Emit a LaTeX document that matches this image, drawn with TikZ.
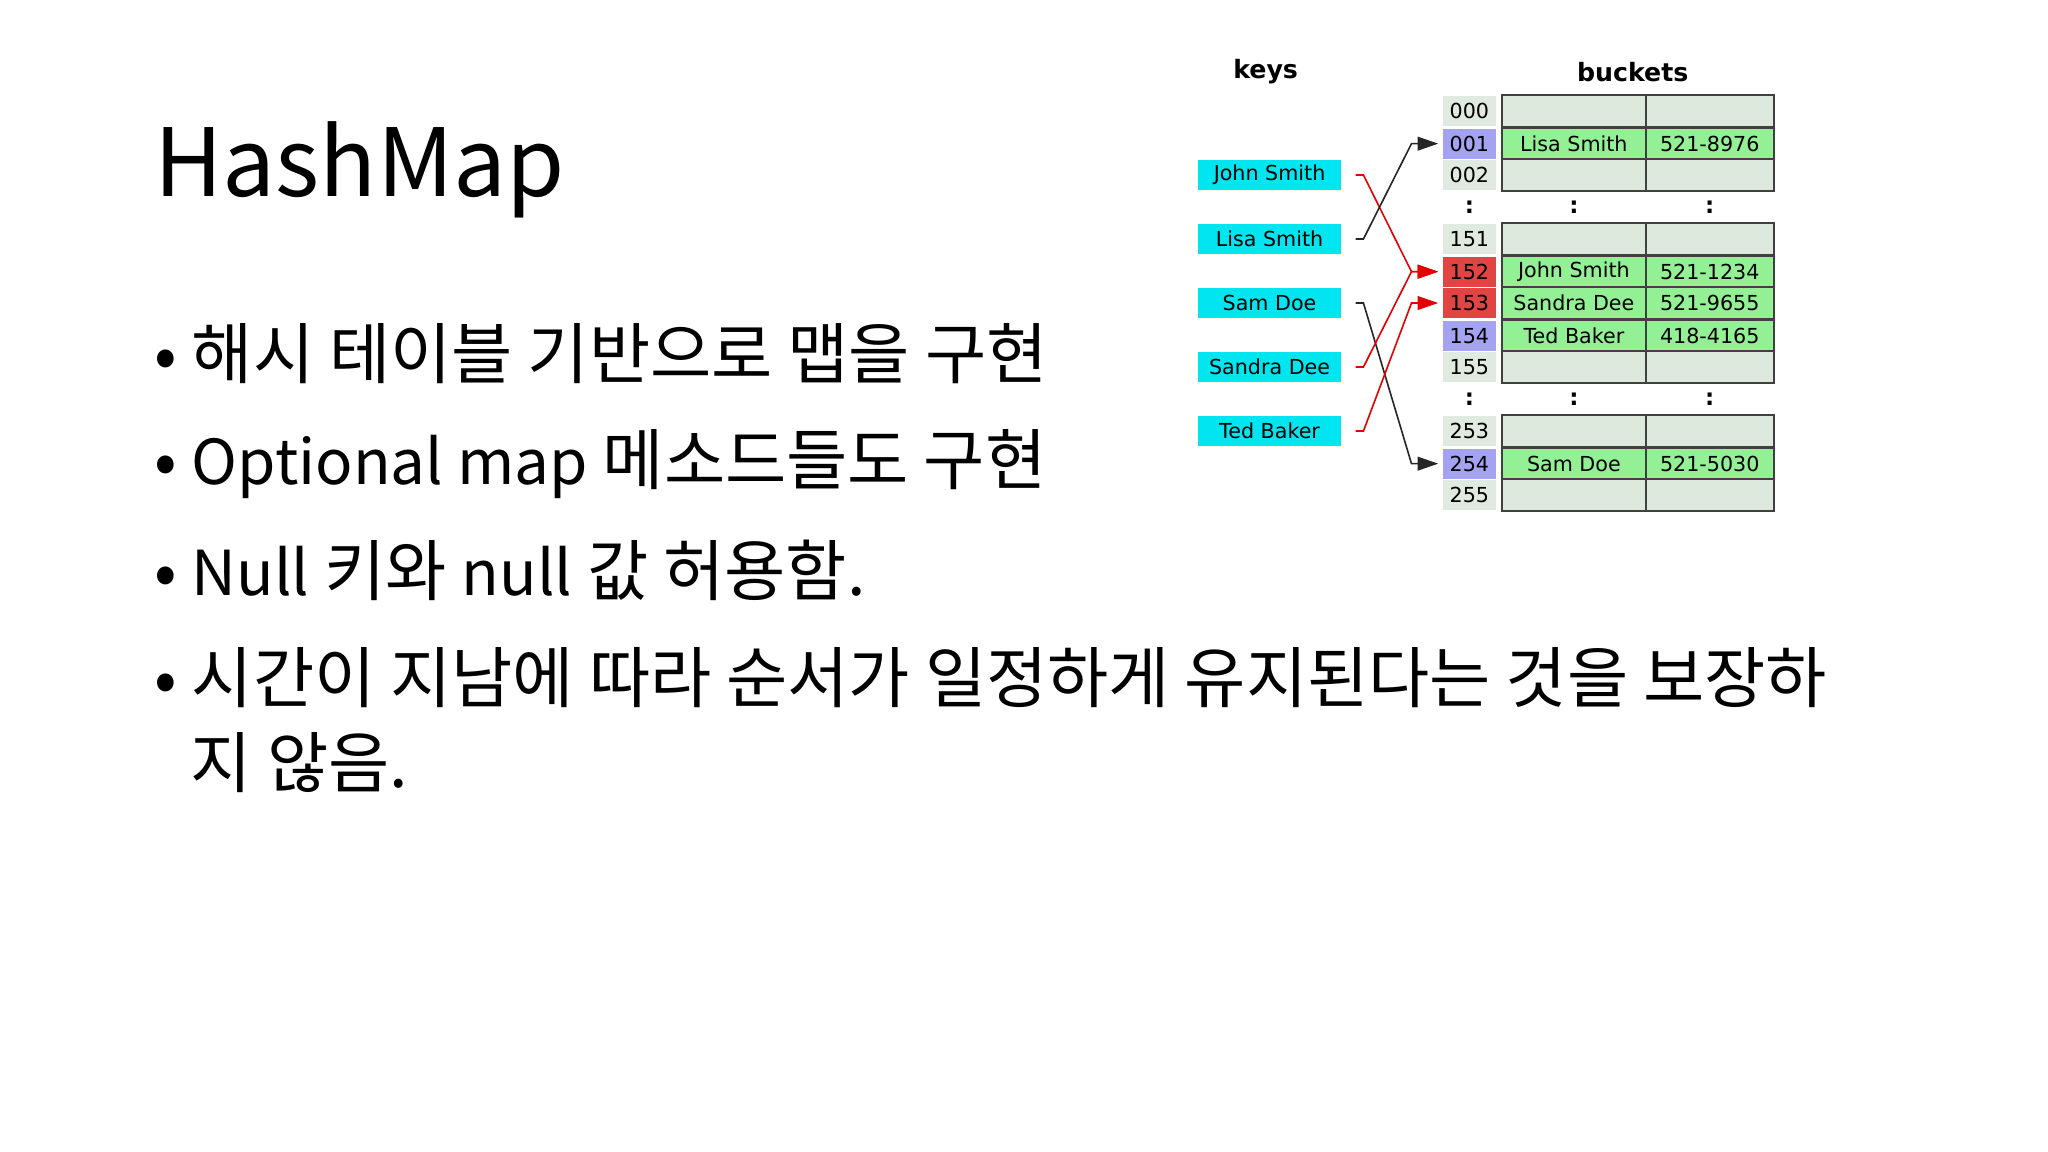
\documentclass[tikz,border=0pt]{standalone}
\usepackage{fontspec}
\setmainfont{Noto Sans CJK KR}
\newfontfamily\dv{DejaVu Sans}
\usetikzlibrary{calc,arrows.meta}
\definecolor{cyanbox}{HTML}{00E5F0}
\definecolor{emptyc}{HTML}{DCE9DC}
\definecolor{fullc}{HTML}{94F094}
\definecolor{purp}{HTML}{A3A3F2}
\definecolor{redc}{HTML}{E24444}
\definecolor{idxc}{HTML}{E0EAE0}
\begin{document}
\begin{tikzpicture}[x=0.02cm,y=-0.02cm,
  key/.style={fill=cyanbox,minimum width=2.2cm,minimum height=0.46cm,inner sep=0,font=\dv\fontsize{9}{10}\selectfont},
  idx/.style={fill=idxc,minimum width=0.8cm,minimum height=0.46cm,inner sep=0,font=\dv\fontsize{9}{10}\selectfont},
  cell/.style={draw=black!75,line width=1pt,minimum width=2.2cm,minimum height=0.49cm,inner sep=0,font=\dv\fontsize{9}{10}\selectfont},
  cellw/.style={cell,minimum width=1.96cm},
  hdr/.style={font=\dv\bfseries\fontsize{11}{12}\selectfont},
  bul/.style={anchor=west,font=\fontsize{29}{36}\selectfont},
  lat/.style={font=\fontsize{27}{36}\selectfont},
  conn/.style={line width=0.7pt,-{Triangle[length=9pt,width=6pt]}},
  dots/.style={font=\dv\bfseries\fontsize{10}{10}\selectfont}]
\useasboundingbox (0,0) rectangle (1568,882);
\fill[white] (0,0) rectangle (1568,882);
% title and bullets
\node[anchor=west,font=\fontsize{41}{48}\selectfont] (title) at (112,130) {HashMap};
\node[bul] (b1) at (112,271) {• 해시 테이블 기반으로 맵을 구현};
\node[bul] (b2) at (112,355) {• {\fontsize{27}{36}\selectfont Optional map} 메소드들도 구현};
\node[bul] (b3) at (112,437) {• {\fontsize{27}{36}\selectfont Null} 키와 {\fontsize{27}{36}\selectfont null} 값 허용함.};
\node[bul] (b4) at (112,519) {• 시간이 지남에 따라 순서가 일정하게 유지된다는 것을 보장하};
\node[bul] (b5) at (140,584) {지 않음.};
% headers
\node[hdr] (hk) at (969,55) {keys};
\node[hdr] (hb) at (1250,55) {buckets};
% keys
\node[key] (js) at (972,134) {John Smith};
\node[key] (ls) at (972,183) {Lisa Smith};
\node[key] (sd) at (972,232) {Sam Doe};
\node[key] (sa) at (972,281) {Sandra Dee};
\node[key] (tb) at (972,330) {Ted Baker};
% index and buckets
\foreach \lab/\y/\ic/\bc/\na/\ph in {
  000/85/idxc/emptyc//,
  001/110/purp/fullc/Lisa Smith/521-8976,
  002/134/idxc/emptyc//,
  151/183/idxc/emptyc//,
  152/208/redc/fullc/John Smith/521-1234,
  153/232/redc/fullc/Sandra Dee/521-9655,
  154/257/purp/fullc/Ted Baker/418-4165,
  155/281/idxc/emptyc//,
  253/330/idxc/emptyc//,
  254/355/purp/fullc/Sam Doe/521-5030,
  255/379/idxc/emptyc//}{
  \node[idx,fill=\ic] (i\lab) at (1125,\y) {\lab};
  \node[cell,fill=\bc] (n\lab) at (1205,\y) {\na};
  \node[cellw,fill=\bc] (p\lab) at (1309,\y) {\ph};
}
\foreach \y [count=\k] in {159,306}{
  \node[dots] (da\k) at (1125,\y) {:};
  \node[dots] (db\k) at (1205,\y) {:};
  \node[dots] (dc\k) at (1309,\y) {:};
}
% connectors
\draw[conn,red!90!black] ([xshift=6]js.east) -- ++(6,0) -- ($(i152.west)+(-24,0)$) -- ([xshift=-2]i152.west);
\draw[conn,black!85] ([xshift=6]ls.east) -- ++(6,0) -- ($(i001.west)+(-24,0)$) -- ([xshift=-2]i001.west);
\draw[conn,black!85] ([xshift=6]sd.east) -- ++(6,0) -- ($(i254.west)+(-24,0)$) -- ([xshift=-2]i254.west);
\draw[conn,red!90!black] ([xshift=6]sa.east) -- ++(6,0) -- ($(i152.west)+(-24,0)$) -- ([xshift=-2]i152.west);
\draw[conn,red!90!black] ([xshift=6]tb.east) -- ++(6,0) -- ($(i153.west)+(-24,0)$) -- ([xshift=-2]i153.west);
\end{tikzpicture}
\end{document}
